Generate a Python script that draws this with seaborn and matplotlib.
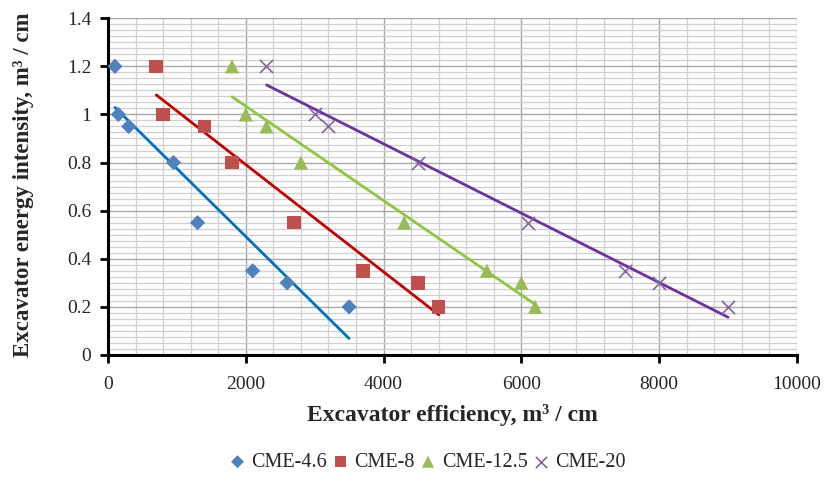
import numpy as np
import pandas as pd
import matplotlib
matplotlib.use("Agg")
import matplotlib.pyplot as plt
from matplotlib.ticker import MultipleLocator, FuncFormatter
import seaborn as sns

# ---- data ----
series_names = ["CME-4.6", "CME-8", "CME-12.5", "CME-20"]
x_cme46 = [100, 150, 300, 950, 1300, 2100, 2600, 3500]
y_cme46 = [1.2, 1.0, 0.95, 0.8, 0.55, 0.35, 0.3, 0.2]
x_cme8 = [700, 800, 1400, 1800, 2700, 3700, 4500, 4800]
y_cme8 = [1.2, 1.0, 0.95, 0.8, 0.55, 0.35, 0.3, 0.2]
x_cme125 = [1800, 2000, 2300, 2800, 4300, 5500, 6000, 6200]
y_cme125 = [1.2, 1.0, 0.95, 0.8, 0.55, 0.35, 0.3, 0.2]
x_cme20 = [2300, 3000, 3200, 4500, 6100, 7500, 8000, 9000]
y_cme20 = [1.2, 1.0, 0.95, 0.8, 0.55, 0.35, 0.3, 0.2]

xs = [x_cme46, x_cme8, x_cme125, x_cme20]
ys = [y_cme46, y_cme8, y_cme125, y_cme20]

marker_colors = ["#4F81BD", "#C0504D", "#9BBB59", "#8064A2"]
line_colors = ["#0070C0", "#C00000", "#8DC63F", "#7030A0"]
markers = ["D", "s", "^", "x"]
sizes = [60, 95, 105, 90]

sns.set_theme(style="white")
plt.rcParams["font.family"] = ["Liberation Serif", "DejaVu Serif"]

fig = plt.figure(figsize=(8.31, 4.93), dpi=100)
ax = fig.add_axes([0.130, 0.280, 0.829, 0.683])

for name, x, y, mk, mc, lc, s in zip(series_names, xs, ys, markers, marker_colors, line_colors, sizes):
    df = pd.DataFrame({"x": x, "y": y})
    sns.regplot(data=df, x="x", y="y", scatter=False, ci=None, truncate=True,
                line_kws={"color": lc, "lw": 2.0, "zorder": 3}, ax=ax)
    if mk == "x":
        sns.scatterplot(data=df, x="x", y="y", marker=mk, s=s, color=mc,
                        linewidth=1.2, ax=ax, zorder=4, label=name)
    else:
        sns.scatterplot(data=df, x="x", y="y", marker=mk, s=s, color=mc,
                        edgecolor="none", ax=ax, zorder=4, label=name)

h, l = ax.get_legend_handles_labels()
ax.get_legend().remove()

ax.set_xlim(0, 10000)
ax.set_ylim(0, 1.4)
ax.xaxis.set_major_locator(MultipleLocator(2000))
ax.xaxis.set_minor_locator(MultipleLocator(400))
ax.yaxis.set_major_locator(MultipleLocator(0.2))
ax.yaxis.set_minor_locator(MultipleLocator(0.025))
ax.yaxis.set_major_formatter(FuncFormatter(lambda v, p: f"{v:g}"))
ax.xaxis.set_major_formatter(FuncFormatter(lambda v, p: f"{v:g}"))

ax.grid(which="major", color="#a8a8a8", lw=1.0, zorder=0)
ax.grid(which="minor", color="#cfcfcf", lw=0.9, zorder=0)
ax.set_axisbelow(True)

for side in ["top", "right"]:
    ax.spines[side].set_visible(False)
for side in ["left", "bottom"]:
    ax.spines[side].set_color("black")
    ax.spines[side].set_linewidth(2.2)

ax.tick_params(which="major", direction="out", length=6, width=2, color="black",
               labelsize=14, left=True, bottom=True, pad=6)
ax.tick_params(which="minor", length=0)
ax.tick_params(axis="x", pad=9)

ax.set_xlabel("Excavator efficiency, m³ / cm", fontsize=17, fontweight="bold", labelpad=8)
ax.set_ylabel("Excavator energy intensity, m³ / cm", fontsize=16.5, fontweight="bold", labelpad=8)
ax.yaxis.set_label_coords(-0.107, 0.505)

fig.legend(h, l, loc="center", bbox_to_anchor=(0.512, 0.062), ncol=4, frameon=False,
           fontsize=14.5, handletextpad=0.1, columnspacing=0.05, markerscale=0.85,
           handlelength=1.2)

fig.savefig("out.png", dpi=100)
